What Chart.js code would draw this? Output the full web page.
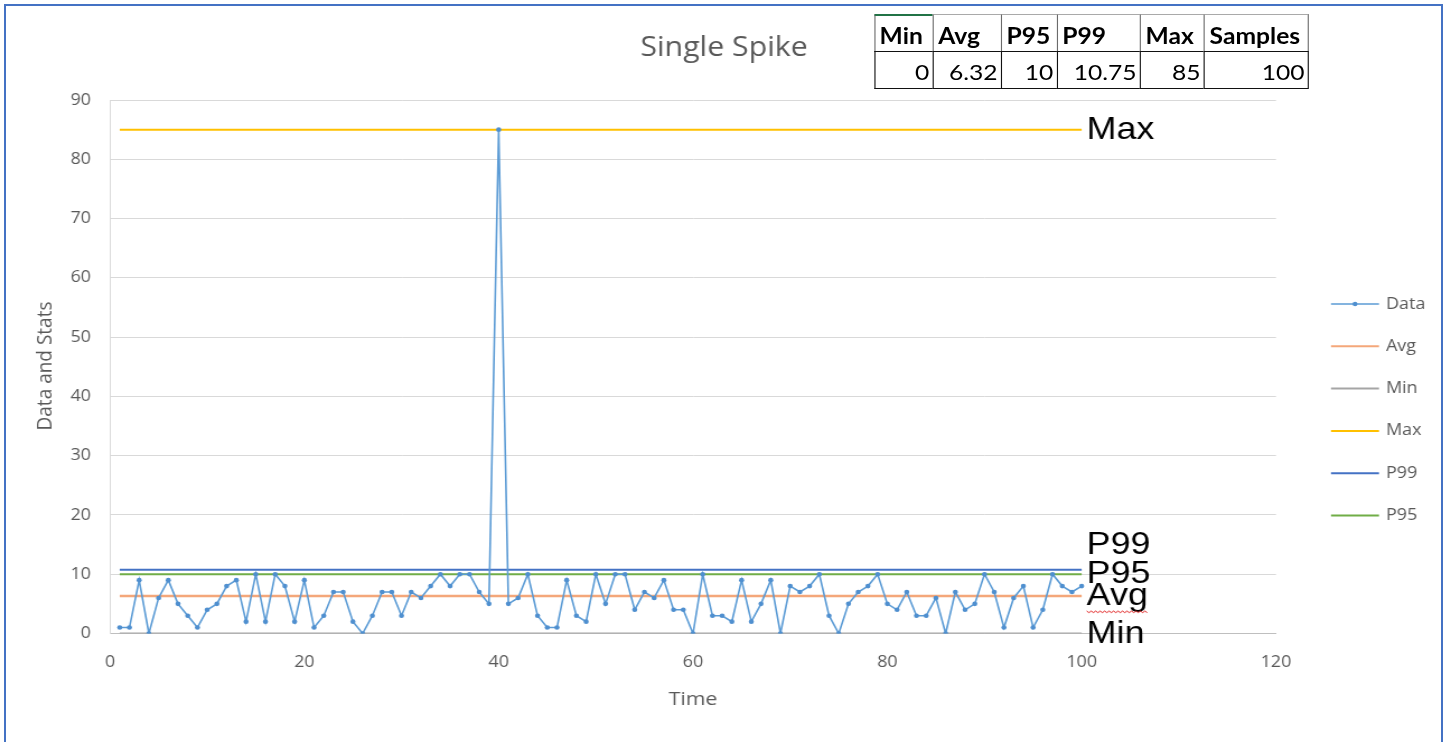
<!DOCTYPE html>
<html><head><meta charset="utf-8">
<script src="https://cdn.jsdelivr.net/npm/chart.js@4.4.1/dist/chart.umd.min.js"></script>
<style>
html,body{margin:0;padding:0;background:#fff;width:1451px;height:742px;overflow:hidden;}
#frame{position:absolute;left:4px;top:4px;width:1439px;height:760px;border:2px solid #4472C4;box-sizing:border-box;}
#wrap{position:absolute;left:0;top:0;width:1296px;height:742px;transform:scaleX(1.1196);transform-origin:0 0;}
#wrap canvas{position:absolute;left:0;top:0;}
.cell{position:absolute;box-sizing:border-box;font-family:Lato,"Liberation Sans",sans-serif;font-size:22px;color:#000;display:flex;align-items:center;white-space:nowrap;}
.hd{font-weight:bold;justify-content:flex-start;padding-left:4px;padding-top:3px;border-left:1.5px solid #6b6b6b;border-top:1.5px solid #a9a9a9;}
.vl{justify-content:flex-end;padding-right:3px;padding-top:2px;border-left:1.5px solid #111;border-top:1.5px solid #111;border-bottom:1.5px solid #111;}
</style></head>
<body>
<div id="frame"></div>
<div id="wrap">
<canvas id="c" width="1296" height="742"></canvas>
<div id="tbl"></div>
</div>
<script>
// ---- data ----
const times = [1,2,3,4,5,6,7,8,9,10,11,12,13,14,15,16,17,18,19,20,
  21,22,23,24,25,26,27,28,29,30,31,32,33,34,35,36,37,38,39,40,
  41,42,43,44,45,46,47,48,49,50,51,52,53,54,55,56,57,58,59,60,
  61,62,63,64,65,66,67,68,69,70,71,72,73,74,75,76,77,78,79,80,
  81,82,83,84,85,86,87,88,89,90,91,92,93,94,95,96,97,98,99,100];
const dataValues = [1,1,9,0,6,9,5,3,1,4, 5,8,9,2,10,2,10,8,2,9,
  1,3,7,7,2,0,3,7,7,3, 7,6,8,10,8,10,10,7,5,85,
  5,6,10,3,1,1,9,3,2,10, 5,10,10,4,7,6,9,4,4,0,
  10,3,3,2,9,2,5,9,0,8, 7,8,10,3,0,5,7,8,10,5,
  4,7,3,3,6,0,7,4,5,10, 7,1,6,8,1,4,10,8,7,8];
const statNames = ['Min','Avg','P95','P99','Max','Samples'];
const statLabels = ['0','6.32','10','10.75','85','100'];
const statValues = [0,6.32,10,10.75,85,100];
const lineSeries = ['Avg','Min','Max','P99','P95'];
const lineColors = {Data:'#5B9BD5',Avg:'#F4A77A',Min:'#A5A5A5',Max:'#FFC000',P99:'#4472C4',P95:'#70AD47'};
const legendOrder = ['Data','Avg','Min','Max','P99','P95'];
const xTicks = [0,20,40,60,80,100,120];
const yTicks = [0,10,20,30,40,50,60,70,80,90];

const S = 1451/1296;
const statOf = n => statValues[statNames.indexOf(n)];

// ---- table ----
const colEdges = [874,932.7,1001,1056.7,1140,1204,1309].map(v=>v/S);
const tbl = document.getElementById('tbl');
statNames.forEach((n,i)=>{
  const l = colEdges[i], w = colEdges[i+1]-colEdges[i];
  const last = i===statNames.length-1;
  const h = document.createElement('div');
  h.className='cell hd'; h.textContent=n;
  h.style.cssText=`left:${l}px;top:14px;width:${w}px;height:38px;`+(last?'border-right:1.5px solid #6b6b6b;':'')+(i===0?'border-top:2px solid #217346;':'');
  tbl.appendChild(h);
  const v = document.createElement('div');
  v.className='cell vl'; v.textContent=statLabels[i];
  v.style.cssText=`left:${l}px;top:51px;width:${w}px;height:38px;`+(last?'border-right:1.5px solid #111;':'');
  tbl.appendChild(v);
});

// ---- chart ----
const datasets = [{
  label:'Data',
  data: times.map((t,i)=>({x:t,y:dataValues[i]})),
  borderColor: lineColors.Data, backgroundColor: lineColors.Data,
  borderWidth:1.6, pointRadius:2.3, pointBorderWidth:0, pointBackgroundColor:'#4F8FCF', tension:0
}];
lineSeries.forEach(n=>{
  datasets.push({label:n, data:[{x:times[0],y:statOf(n)},{x:times[times.length-1],y:statOf(n)}],
    borderColor:lineColors[n], backgroundColor:lineColors[n], borderWidth:n==='Avg'?2.6:2, pointRadius:0});
});

const FONT = '"Open Sans", sans-serif';
const textPlugin = {
  id:'texts',
  afterDraw(chart){
    const ctx = chart.ctx, xs = chart.scales.x, ys = chart.scales.y;
    ctx.save();
    ctx.fillStyle='#595959';
    ctx.textAlign='center'; ctx.textBaseline='middle';
    ctx.font = `27px ${FONT}`;
    ctx.fillText('Single Spike', 724/S, 48);
    ctx.font = `19px ${FONT}`;
    ctx.fillText('Time', 693/S, 700);
    ctx.save();
    ctx.translate(45/S, 366); ctx.rotate(-Math.PI/2);
    ctx.fillText('Data and Stats', 0, 0);
    ctx.restore();
    // legend
    ctx.font = `16px ${FONT}`; ctx.textAlign='left';
    legendOrder.forEach((n,i)=>{
      const y = 304 + i*42.3;
      ctx.strokeStyle = lineColors[n]; ctx.lineWidth = n==='Data'?1.6:2;
      ctx.beginPath(); ctx.moveTo(1331/S,y); ctx.lineTo(1379/S,y); ctx.stroke();
      if(n==='Data'){ ctx.fillStyle='#4F8FCF'; ctx.beginPath(); ctx.arc(1355/S,y,2.2,0,Math.PI*2); ctx.fill(); }
      ctx.fillStyle='#595959';
      ctx.fillText(n, 1386/S, y);
    });
    // annotation labels
    ctx.fillStyle='#000'; ctx.textBaseline='alphabetic';
    ctx.font = '32px "Liberation Sans", Arial, sans-serif';
    const lx = xs.getPixelForValue(times[times.length-1]) + 4.5;
    ['Max','P99','P95','Avg','Min'].forEach(n=>{
      let y = ys.getPixelForValue(statOf(n)) + 9;
      if(n==='P99') y -= 25;
      ctx.fillText(n, lx, y);
      if(n==='Avg'){
        const w = ctx.measureText(n).width;
        ctx.strokeStyle='#E02020'; ctx.lineWidth=1;
        ctx.beginPath();
        for(let x=0;x<=w;x+=2){ const yy = y+6 + ((x/2)%2===0?0:1.6); if(x===0) ctx.moveTo(lx+x,yy); else ctx.lineTo(lx+x,yy); }
        ctx.stroke();
      }
    });
    ctx.restore();
  }
};

new Chart(document.getElementById('c'), {
  type:'line',
  data:{datasets},
  options:{
    responsive:false, animation:false, devicePixelRatio:1,
    parsing:true,
    layout:{padding:{left:0,right:1296-1276/S,top:100,bottom:0}},
    plugins:{legend:{display:false}, title:{display:false}, tooltip:{enabled:false}},
    scales:{
      x:{type:'linear', min:xTicks[0], max:xTicks[xTicks.length-1],
        afterFit(s){ s.height = 742-633.5; },
        afterBuildTicks(s){ s.ticks = xTicks.map(v=>({value:v})); },
        grid:{display:false, drawTicks:false},
        border:{display:true, color:'#BFBFBF', width:1},
        ticks:{padding:19, color:'#595959', font:{family:'"Open Sans"', size:16}, maxRotation:0}
      },
      y:{type:'linear', min:yTicks[0], max:yTicks[yTicks.length-1],
        afterFit(s){ s.width = 110/S; },
        afterBuildTicks(s){ s.ticks = yTicks.map(v=>({value:v})); },
        grid:{color:'#D9D9D9', lineWidth:1, drawTicks:false},
        border:{display:true, color:'#D9D9D9', width:1},
        ticks:{padding:17, color:'#595959', font:{family:'"Open Sans"', size:16}}
      }
    }
  },
  plugins:[textPlugin]
});
</script>
</body></html>
